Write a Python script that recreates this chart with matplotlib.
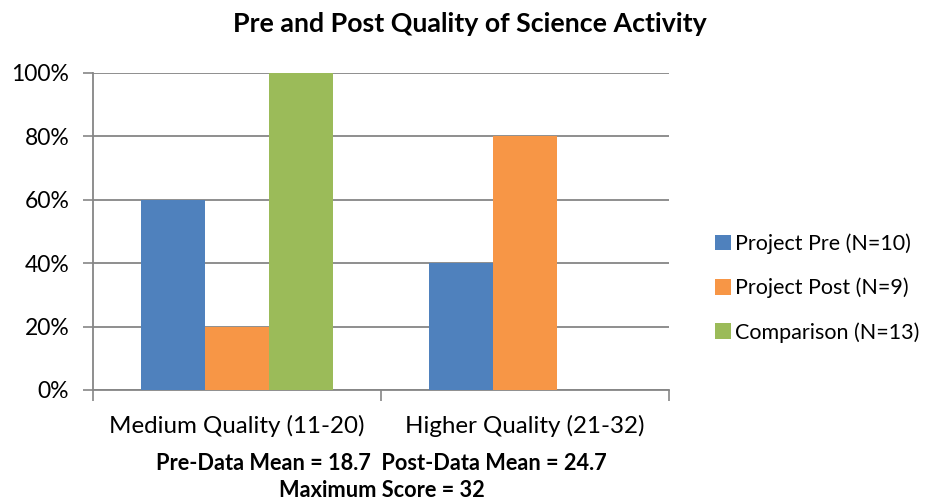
import numpy as np
import matplotlib.pyplot as plt
from matplotlib.ticker import PercentFormatter

categories = ['Medium Quality (11-20)', 'Higher Quality (21-32)']
series_names = ['Project Pre (N=10)', 'Project Post (N=9)', 'Comparison (N=13)']
project_pre = [60, 40]
project_post = [20, 80]
comparison = [100, 0]
colors = ['#4F81BD', '#F79646', '#9BBB59']

plt.rcParams['font.family'] = ['Lato', 'DejaVu Sans']

fig = plt.figure(figsize=(9.28, 5.01), dpi=100)
ax = fig.add_axes([0.1002, 0.2216, 0.6207, 0.6327])

x = np.arange(len(categories))
w = 0.222
for i, (vals, name) in enumerate(zip([project_pre, project_post, comparison], series_names)):
    ax.bar(x + (i - 1) * w, vals, w, color=colors[i], label=name, zorder=3)

ax.set_xlim(-0.5, 1.5)
ax.set_ylim(0, 100)
ax.set_yticks(range(0, 101, 20))
ax.yaxis.set_major_formatter(PercentFormatter(decimals=0))
ax.set_xticks([-0.5, 0.5, 1.5], minor=False)
ax.set_xticklabels([])
ax.set_xticks(x, minor=True)
ax.set_xticklabels(categories, minor=True)
ax.tick_params(axis='x', which='major', length=8, color='#868686', width=1.2)
ax.tick_params(axis='x', which='minor', length=0, labelsize=17.4, pad=18)
ax.tick_params(axis='y', length=7, color='#868686', width=1.2, labelsize=16.5, pad=10)
ax.grid(axis='y', color='#868686', linewidth=1.3, zorder=0)
for s in ['top', 'right']:
    ax.spines[s].set_visible(False)
for s in ['left', 'bottom']:
    ax.spines[s].set_color('#868686')
    ax.spines[s].set_linewidth(1.3)

fig.text(0.506, 0.952, 'Pre and Post Quality of Science Activity', ha='center', va='center',
         fontsize=19.3, fontweight='bold')
fig.text(0.411, 0.075, 'Pre-Data Mean = 18.7  Post-Data Mean = 24.7', ha='center', va='center',
         fontsize=15.7, fontweight='bold')
fig.text(0.411, 0.021, 'Maximum Score = 32', ha='center', va='center',
         fontsize=15.7, fontweight='bold')

fig.legend(loc='center left', bbox_to_anchor=(0.7705, 0.425), frameon=False, fontsize=15.5,
           handlelength=0.75, handleheight=0.75, handletextpad=0.2, labelspacing=1.1,
           borderpad=0, borderaxespad=0)

fig.savefig('out.png', dpi=100)
